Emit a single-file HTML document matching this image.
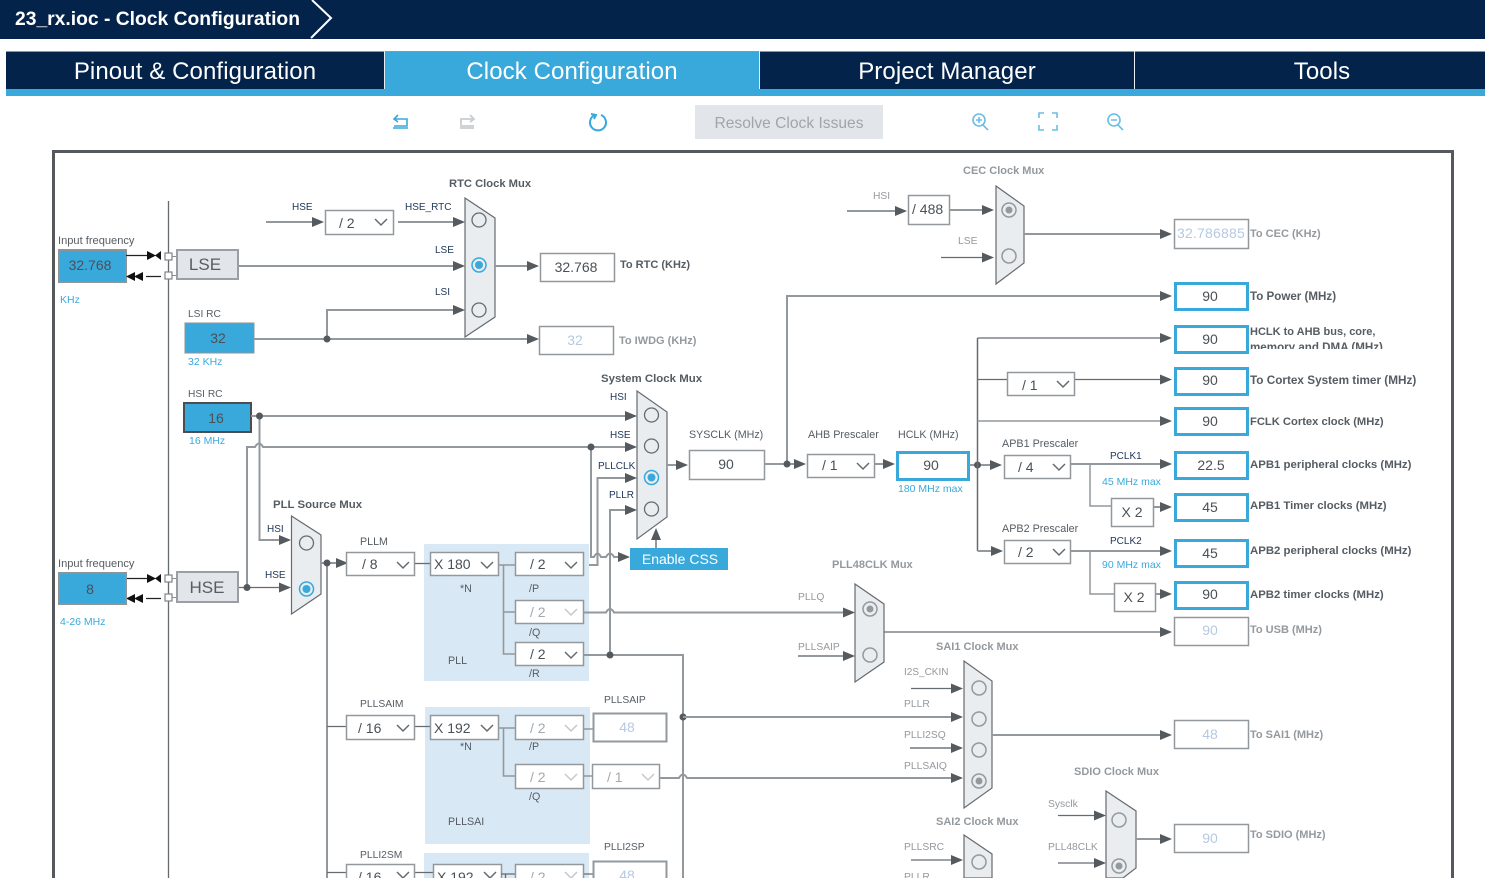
<!DOCTYPE html>
<html><head><meta charset="utf-8"><title>Clock Configuration</title>
<style>
html,body{margin:0;padding:0;background:#fff;width:1485px;height:881px;overflow:hidden}
svg{position:absolute;left:0;top:0;display:block}
text{font-family:"Liberation Sans",sans-serif;font-size:10.7px;fill:#555c63}
.if{font-size:11.1px}
.n{fill:#1d3557;font-size:10px}.b{font-weight:bold;font-size:11.2px;fill:#555c63}.r{font-weight:bold;font-size:11.4px;fill:#555c63}.bg{font-weight:bold;font-size:11px;fill:#94999e}
.gl{fill:#94999e;font-size:10.3px}.bl{fill:#39a9dc;font-size:10.5px}
.v{font-size:14px;fill:#4a5056}.vc{font-size:14px;fill:#4a5056;text-anchor:middle}
.dv{font-size:14px;fill:#b5c9e2;text-anchor:middle}.off{font-size:14px;fill:#a4a9ae}
.g{fill:none;stroke:#93989c;stroke-width:2}.d{fill:none;stroke:#666b70;stroke-width:1.3}
.w{fill:#fff;stroke:#93989c;stroke-width:1.5}.wb{fill:#fff;stroke:#39a9dc;stroke-width:3}
.mx{fill:#e9edf0;stroke:#666b70;stroke-width:1.2}
.o{fill:none;stroke:#666b70;stroke-width:1.3}.s{fill:none;stroke:#39a9dc;stroke-width:1.5}.sg{fill:none;stroke:#94999e;stroke-width:1.5}
.ch{fill:none;stroke:#666b70;stroke-width:1.5}.cl{fill:none;stroke:#c4c8cc;stroke-width:1.5}
.bx{fill:#39a9dc;stroke:#8e9398;stroke-width:2}.ls{fill:#e2e6ea;stroke:#9a9fa4;stroke-width:2}
.t{font-size:24px;fill:#fff;text-anchor:middle;letter-spacing:.1px}
.i{fill:none;stroke:#39a9dc;stroke-width:1.6}
</style></head><body>
<svg width="1485" height="881" viewBox="0 0 1485 881" xmlns="http://www.w3.org/2000/svg">
<defs>
<marker id="a" markerUnits="userSpaceOnUse" markerWidth="13" markerHeight="11" refX="10" refY="5" orient="auto"><polygon points="0,0 12,5 0,10" fill="#555a5f"/></marker>
<clipPath id="pg"><rect x="0" y="0" width="1485" height="878"/></clipPath>
<clipPath id="hc"><rect x="1245" y="320" width="200" height="29"/></clipPath>
</defs>
<rect x="0" y="0" width="1485" height="39" fill="#03234b"/>
<text x="15" y="25" style="font-size:19.3px;font-weight:bold;fill:#fff">23_rx.ioc - Clock Configuration</text>
<polyline points="312,0 331,18 311,38" fill="none" stroke="#fff" stroke-width="2"/>
<rect x="6" y="51" width="1479" height="45" fill="#39a9dc"/>
<rect x="6" y="51" width="378" height="38" fill="#03234b"/>
<rect x="760" y="51" width="374" height="38" fill="#03234b"/>
<rect x="1135" y="51" width="350" height="38" fill="#03234b"/>
<rect x="6" y="51" width="1479" height="1" fill="#8a96a8"/>
<rect x="384" y="51" width="1" height="38" fill="#e8eef4"/>
<rect x="759" y="51" width="1" height="38" fill="#e8eef4"/>
<rect x="1134" y="51" width="1" height="38" fill="#e8eef4"/>
<text class="t" x="195" y="79">Pinout &amp; Configuration</text>
<text class="t" x="572" y="79">Clock Configuration</text>
<text class="t" x="947" y="79">Project Manager</text>
<text class="t" x="1322" y="79">Tools</text>

<path class="i" d="M393 128h15M394 119h13v7h-13M398 115l-4 4 4 3"/>
<path d="M460 128h14M474 119h-13v7h13M470 115l4 4-4 3" fill="none" stroke="#c9cdd1" stroke-width="1.8"/>
<path class="i" d="M595 115a8 8 0 1 0 6 0M591 114l5 1-2 4" style="stroke-width:2"/>
<rect x="695" y="105" width="188" height="34" fill="#e2e6ea"/>
<text x="789" y="128" style="font-size:15.6px;fill:#a0a5aa;text-anchor:middle">Resolve Clock Issues</text>
<g style="opacity:.75"><circle class="i" cx="979" cy="120" r="6"/><path class="i" d="M983 125l5 5M976 120h6M979 117v6"/>
<path class="i" d="M1039 118v-5h5M1052 113h5v5M1057 125v5h-5M1044 130h-5v-5"/>
<circle class="i" cx="1114" cy="120" r="6"/><path class="i" d="M1118 125l5 5M1111 120h6"/></g>

<g clip-path="url(#pg)">
<path d="M53.500 878V151.500H1452.500V878" fill="none" stroke="#55595d" stroke-width="3"/>
<path d="M168.500 201V878" class="d"/>

<!-- LSE -->
<text class="if" x="58" y="244">Input frequency</text>
<rect class="bx" x="59" y="250" width="67" height="32"/>
<text class="vc" x="90" y="270">32.768</text>
<text class="bl" x="60" y="303">KHz</text>
<path d="M126 255.500H148M146 276.500H161M126 578.500H148M146 598.500H161" stroke="#222" stroke-width="1.3" fill="none"/>
<g fill="#111"><polygon points="147,251 156,255.500 147,260"/><polygon points="161,251 155,255.500 161,260"/><polygon points="135,272 126,276.500 135,281"/><polygon points="143,272 134,276.500 143,281"/>
<polygon points="147,574 156,578.500 147,583"/><polygon points="161,574 155,578.500 161,583"/><polygon points="135,594 126,598.500 135,603"/><polygon points="143,594 134,598.500 143,603"/></g>
<g fill="#fff" stroke="#7f8488" stroke-width="1.2"><rect x="165" y="253" width="7" height="7"/><rect x="165" y="272" width="7" height="7"/><rect x="165" y="575" width="7" height="7"/><rect x="165" y="594" width="7" height="7"/></g>
<path d="M172 256.500h5M172 275.500h5M172 578.500h5M172 597.500h5" stroke="#8a8f94"/>
<rect class="ls" x="177" y="250" width="61" height="29"/>
<text x="205" y="270" style="font-size:17px;fill:#555c63;text-anchor:middle">LSE</text>
<path class="g" d="M239 266H463" marker-end="url(#a)"/>
<text class="n" x="292" y="210">HSE</text>
<path class="g" d="M266 222H322" marker-end="url(#a)"/>
<rect class="w" x="325.500" y="210.500" width="68" height="24"/>
<text class="v" x="339" y="228">/ 2</text>
<path class="ch" d="M375 219l6 6 6-6"/>
<text class="n" x="405" y="210">HSE_RTC</text>
<path class="g" d="M398 222H463" marker-end="url(#a)"/>
<text class="n" x="435" y="253">LSE</text><text class="n" x="435" y="295">LSI</text>
<text class="b" x="449" y="187">RTC Clock Mux</text>
<polygon class="mx" points="465,198 495,218 495,317 465,337"/>
<circle class="o" cx="479" cy="220" r="7"/><circle class="s" cx="479" cy="265" r="7"/><circle cx="479" cy="265" r="4" fill="#39a9dc"/><circle class="o" cx="479" cy="310" r="7"/>
<path class="g" d="M495 266H537" marker-end="url(#a)"/>
<rect class="w" x="540.500" y="253.500" width="74" height="28"/>
<text class="vc" x="576" y="272">32.768</text>
<text class="b" x="620" y="268" style="font-size:11px">To RTC (KHz)</text>

<!-- LSI -->
<text x="188" y="317" style="font-size:10.2px">LSI RC</text>
<rect class="bx" x="185" y="323" width="69" height="30" style="stroke:#8e9398;stroke-width:1"/>
<text class="vc" x="218" y="343">32</text>
<text class="bl" x="188" y="365">32 KHz</text>
<path class="g" d="M254 339H537" marker-end="url(#a)"/>
<path class="g" d="M327 339V310H463" marker-end="url(#a)"/>
<circle cx="327" cy="339" r="3.500" fill="#55595d"/>
<rect class="w" x="539.500" y="326.500" width="74" height="28"/>
<text class="dv" x="575" y="345">32</text>
<text class="bg" x="619" y="344">To IWDG (KHz)</text>

<!-- HSI -->
<text x="188" y="397" style="font-size:10.2px">HSI RC</text>
<rect x="184" y="403" width="67" height="29" fill="#39a9dc" stroke="#4a4e52" stroke-width="2"/>
<text class="vc" x="216" y="423">16</text>
<text class="bl" x="189" y="444">16 MHz</text>
<path class="g" d="M251 416H635" marker-end="url(#a)"/>
<path class="g" d="M247 587V447H255q4-7 8 0H635" marker-end="url(#a)"/>
<path class="g" d="M259.500 416V540H289" marker-end="url(#a)"/>
<circle cx="259.500" cy="416" r="3.500" fill="#55595d"/>
<text class="n" x="267" y="532">HSI</text><text class="n" x="265" y="578">HSE</text>
<text class="b" x="273" y="508" style="font-size:11.4px">PLL Source Mux</text>
<polygon class="mx" points="291.500,516 321,535 321,594 291.500,614"/>
<circle class="o" cx="306.500" cy="543" r="7"/><circle class="s" cx="306.500" cy="589" r="7"/><circle cx="306.500" cy="589" r="4" fill="#39a9dc"/>

<!-- HSE -->
<text class="if" x="58" y="567">Input frequency</text>
<rect class="bx" x="59" y="573" width="67" height="31"/>
<text class="vc" x="90" y="594">8</text>
<text class="bl" x="60" y="625">4-26 MHz</text>
<rect class="ls" x="177" y="572" width="61" height="30"/>
<text x="207" y="593" style="font-size:17px;fill:#555c63;text-anchor:middle">HSE</text>
<path class="d" d="M239 587.500H289" marker-end="url(#a)"/>
<circle cx="247" cy="587.500" r="3.500" fill="#55595d"/>

<!-- System mux -->
<text class="b" x="601" y="382" style="font-size:11.45px">System Clock Mux</text>
<text class="n" x="610" y="400">HSI</text><text class="n" x="610" y="438">HSE</text><text class="n" x="598" y="469">PLLCLK</text><text class="n" x="609" y="498">PLLR</text>
<polygon class="mx" points="637,391 667,412 667,517 637,539"/>
<circle class="o" cx="651.500" cy="415" r="7"/><circle class="o" cx="651.500" cy="446" r="7"/><circle class="s" cx="651.500" cy="477.500" r="7"/><circle cx="651.500" cy="477.500" r="4" fill="#39a9dc"/><circle class="o" cx="651.500" cy="509" r="7"/>
<path class="g" d="M591 447V557H594q3.500-7 7 0H606q4-7 8 0H628" marker-end="url(#a)"/>
<circle cx="591" cy="447" r="3.500" fill="#55595d"/>
<path class="g" d="M584 565H597.500V478H635" marker-end="url(#a)"/>
<path class="g" d="M610 655V510H635" marker-end="url(#a)"/>
<path class="g" d="M656 548V530" marker-end="url(#a)"/>
<rect x="630" y="548" width="98" height="22" fill="#39a9dc"/>
<text x="680" y="564" style="font-size:14px;fill:#fff;text-anchor:middle">Enable CSS</text>
<path class="g" d="M667 465H686" marker-end="url(#a)"/>
<text x="689" y="438">SYSCLK (MHz)</text>
<rect class="w" x="689.500" y="450.500" width="75" height="29"/>
<text class="vc" x="726" y="469">90</text>
<path class="g" d="M765 464H804" marker-end="url(#a)"/>
<path class="g" d="M787 464V296H1170" marker-end="url(#a)"/>
<circle cx="787" cy="464" r="3.500" fill="#55595d"/>

<!-- PLL -->
<rect x="424" y="544" width="165" height="137" fill="#d9e8f5"/>
<text x="360" y="545">PLLM</text>
<path class="g" d="M321 563H346" marker-end="url(#a)"/>
<path class="g" d="M327 563V878"/>
<circle cx="327" cy="563" r="3.500" fill="#55595d"/>
<rect class="w" x="346.500" y="552.500" width="68" height="23"/>
<text class="v" x="362" y="569">/ 8</text><path class="ch" d="M397 562l6 6 6-6"/>
<path class="d" d="M415 563.500H430"/>
<rect class="w" x="430.500" y="552.500" width="68" height="23"/>
<text class="v" x="434" y="569">X 180</text><path class="ch" d="M481 562l6 6 6-6"/>
<path class="g" d="M499 565H515M503.500 565V654H515M503.500 612H515" style="stroke-width:1.6"/>
<rect class="w" x="515.500" y="552.500" width="68" height="23"/>
<text class="v" x="530" y="569">/ 2</text><path class="ch" d="M565 562l6 6 6-6"/>
<rect class="w" x="515.500" y="600.500" width="68" height="23"/>
<text class="off" x="530" y="617">/ 2</text><path class="cl" d="M565 609l6 6 6-6"/>
<rect class="w" x="515.500" y="642.500" width="68" height="23"/>
<text class="v" x="530" y="659">/ 2</text><path class="ch" d="M565 652l6 6 6-6"/>
<text x="460" y="592">*N</text><text x="529" y="592">/P</text><text x="529" y="636">/Q</text><text x="529" y="677">/R</text><text x="448" y="664">PLL</text>
<path class="g" d="M584 612.500H606q4-7 8 0H853" marker-end="url(#a)"/>
<path class="g" d="M584 655H683V878"/>
<circle cx="610" cy="655" r="3.500" fill="#55595d"/>
<circle cx="683" cy="717" r="3.500" fill="#55595d"/>

<!-- PLL48 -->
<text class="bg" x="832" y="568">PLL48CLK Mux</text>
<text class="gl" x="798" y="600">PLLQ</text><text class="gl" x="798" y="650">PLLSAIP</text>
<path class="g" d="M798 656H853" marker-end="url(#a)"/>
<polygon class="mx" points="855,584 884,604 884,662 855,682"/>
<circle class="sg" cx="870" cy="609" r="7"/><circle cx="870" cy="609" r="3.500" fill="#94999e"/><circle class="sg" cx="870" cy="655" r="7"/>
<path class="d" d="M884 632H1170" marker-end="url(#a)"/>
<rect class="w" x="1174.500" y="617.500" width="74" height="28"/><text class="dv" x="1210" y="635">90</text>
<text class="bg" x="1250" y="633">To USB (MHz)</text>

<!-- PLLSAI -->
<rect x="425" y="707" width="165" height="137" fill="#d9e8f5"/>
<text x="360" y="707" style="font-size:10.3px">PLLSAIM</text>
<path class="d" d="M327 726.500H346M415 726.500H430"/>
<rect class="w" x="346.500" y="715.500" width="68" height="24"/><text class="v" x="358" y="733">/ 16</text><path class="ch" d="M397 725l6 6 6-6"/>
<rect class="w" x="430.500" y="715.500" width="68" height="24"/><text class="v" x="434" y="733">X 192</text><path class="ch" d="M481 725l6 6 6-6"/>
<path class="g" d="M499 728H515M503.500 728V776H515" style="stroke-width:1.6"/>
<rect class="w" x="515.500" y="715.500" width="68" height="24"/><text class="off" x="530" y="733">/ 2</text><path class="cl" d="M565 725l6 6 6-6"/>
<rect class="w" x="515.500" y="764.500" width="68" height="24"/><text class="off" x="530" y="782">/ 2</text><path class="cl" d="M565 774l6 6 6-6"/>
<text x="460" y="750">*N</text><text x="529" y="750">/P</text><text x="529" y="800">/Q</text><text x="448" y="825">PLLSAI</text>
<text x="604" y="703" style="font-size:10.3px">PLLSAIP</text>
<path class="g" d="M584 729H593M584 776H592" style="stroke-width:1.6"/>
<rect class="w" x="593.500" y="713.500" width="73" height="28" style="stroke-width:2"/><text class="dv" x="627" y="732">48</text>
<rect class="w" x="592.500" y="764.500" width="67" height="24"/><text class="off" x="607" y="782">/ 1</text><path class="cl" d="M642 774l6 6 6-6"/>
<path class="g" d="M660 778H679q4-7 8 0H961" marker-end="url(#a)"/>
<path class="g" d="M683 717H961" marker-end="url(#a)"/>

<!-- PLLI2S -->
<rect x="424" y="853" width="165" height="25" fill="#d9e8f5"/>
<text x="360" y="858" style="font-size:10.3px">PLLI2SM</text><text x="604" y="850" style="font-size:10.3px">PLLI2SP</text>
<path class="d" d="M327 872.500H346M415 872.500H433"/>
<path class="w" d="M346.500 878V864.500H414.500V878"/><text class="v" x="358" y="882">/ 16</text><path class="ch" d="M397 872l6 6"/><path class="ch" d="M409 872l-6 6"/>
<path class="w" d="M433.500 878V864.500H501.500V878"/><text class="v" x="437" y="882">X 192</text><path class="ch" d="M484 872l6 6 6-6"/>
<path class="d" d="M501 874H515M505.500 874V878M584 874H593"/>
<path class="w" d="M515.500 878V864.500H583.500V878"/><text class="off" x="530" y="882">/ 2</text><path class="cl" d="M565 872l6 6 6-6"/>
<path class="w" d="M593.500 878V861.500H666.500V878" style="stroke-width:2"/><text class="dv" x="627" y="880">48</text>

<!-- SAI1 -->
<text class="bg" x="936" y="650">SAI1 Clock Mux</text>
<text class="gl" x="904" y="675" style="font-size:10px">I2S_CKIN</text><text class="gl" x="904" y="707">PLLR</text><text class="gl" x="904" y="738">PLLI2SQ</text><text class="gl" x="904" y="769">PLLSAIQ</text>
<path class="d" d="M911 688.500H961" marker-end="url(#a)"/>
<path class="g" d="M910 748H961" marker-end="url(#a)"/>
<polygon class="mx" points="964,661 992,681 992,788 964,808"/>
<circle class="sg" cx="979" cy="688" r="7"/><circle class="sg" cx="979" cy="719" r="7"/><circle class="sg" cx="979" cy="750" r="7"/><circle class="sg" cx="979" cy="781" r="7"/><circle cx="979" cy="781" r="3.500" fill="#94999e"/>
<path class="g" d="M992 735H1170" marker-end="url(#a)"/>
<rect class="w" x="1174.500" y="720.500" width="74" height="28"/><text class="dv" x="1210" y="739">48</text>
<text class="bg" x="1250" y="738">To SAI1 (MHz)</text>

<!-- SAI2 -->
<text class="bg" x="936" y="825">SAI2 Clock Mux</text>
<text class="gl" x="904" y="850">PLLSRC</text><text class="gl" x="904" y="880">PLLR</text>
<path class="d" d="M911 860H961" marker-end="url(#a)"/>
<polygon class="mx" points="964,835 992,854 992,878 964,878"/>
<circle class="sg" cx="979" cy="862" r="7"/>

<!-- SDIO -->
<text class="bg" x="1074" y="775">SDIO Clock Mux</text>
<text class="gl" x="1048" y="807">Sysclk</text><text class="gl" x="1048" y="850">PLL48CLK</text>
<path class="d" d="M1058 815.500H1104" marker-end="url(#a)"/>
<path class="d" d="M1058 863H1104" marker-end="url(#a)"/>
<polygon class="mx" points="1106,791 1136,811 1136,868 1123,878 1106,878"/>
<circle class="sg" cx="1119" cy="820" r="7"/><circle class="sg" cx="1119" cy="866" r="7"/><circle cx="1119" cy="866" r="3.500" fill="#94999e"/>
<path class="g" d="M1136 839H1170" marker-end="url(#a)"/>
<rect class="w" x="1174.500" y="824.500" width="74" height="28"/><text class="dv" x="1210" y="843">90</text>
<text class="bg" x="1250" y="838">To SDIO (MHz)</text>

<!-- CEC -->
<text class="bg" x="963" y="174">CEC Clock Mux</text>
<text class="gl" x="873" y="199">HSI</text><text class="gl" x="958" y="244">LSE</text>
<path class="g" d="M847 211H905" marker-end="url(#a)"/>
<rect class="w" x="908.500" y="195.500" width="41" height="29"/>
<text class="v" x="912" y="214">/ 488</text>
<path class="g" d="M949 210H992" marker-end="url(#a)"/>
<path class="d" d="M941 257.500H992" marker-end="url(#a)"/>
<polygon class="mx" points="996,186 1024,206 1024,263 996,284"/>
<circle class="sg" cx="1009" cy="210" r="7"/><circle cx="1009" cy="210" r="3.500" fill="#94999e"/><circle class="sg" cx="1009" cy="256" r="7"/>
<path class="g" d="M1024 234H1170" marker-end="url(#a)"/>
<rect class="w" x="1174.500" y="219.500" width="74" height="29"/>
<text x="1177" y="238" style="font-size:14px;letter-spacing:.2px;fill:#b5c9e2">32.786885</text>
<text class="bg" x="1250" y="237">To CEC (KHz)</text>

<!-- AHB -->
<text x="808" y="438" style="font-size:10.8px">AHB Prescaler</text><text x="898" y="438">HCLK (MHz)</text>
<rect class="w" x="807.500" y="454.500" width="67" height="23"/><text class="v" x="822" y="470">/ 1</text><path class="ch" d="M857 463l6 6 6-6"/>
<path class="g" d="M875 464H893" marker-end="url(#a)"/>
<rect class="wb" x="897.500" y="452.500" width="71" height="27"/><text class="vc" x="931" y="470">90</text>
<text class="bl" x="898" y="492">180 MHz max</text>
<path class="g" d="M969 465H1000" marker-end="url(#a)"/>
<circle cx="977.500" cy="465" r="3.500" fill="#55595d"/>
<path class="d" d="M977.500 338H1170" marker-end="url(#a)"/>
<path class="d" d="M977.500 338V551" style="stroke-width:1.5"/>
<path class="d" d="M977.500 379.500H1007"/>
<path class="d" d="M1075 379.500H1170" marker-end="url(#a)"/>
<path class="g" d="M977.500 421H1170" style="stroke-width:1.5" marker-end="url(#a)"/>
<path class="g" d="M977.500 551H1001" marker-end="url(#a)"/>
<rect class="w" x="1007.500" y="372.500" width="67" height="23"/><text class="v" x="1022" y="390">/ 1</text><path class="ch" d="M1057 381l6 6 6-6"/>

<text x="1002" y="447" style="font-size:10.8px">APB1 Prescaler</text>
<rect class="w" x="1004.500" y="455.500" width="66" height="23"/><text class="v" x="1018" y="472">/ 4</text><path class="ch" d="M1053 464l6 6 6-6"/>
<path class="g" d="M1071 464H1170" marker-end="url(#a)"/>
<text class="n" x="1110" y="459">PCLK1</text><text class="bl" x="1102" y="485">45 MHz max</text>
<path class="g" d="M1090 464V506H1111" style="stroke-width:1.5"/>
<rect class="w" x="1111.500" y="498.500" width="42" height="28"/><text class="vc" x="1132" y="517">X 2</text>
<path class="g" d="M1154 507H1170" marker-end="url(#a)"/>

<text x="1002" y="532" style="font-size:10.8px">APB2 Prescaler</text>
<rect class="w" x="1004.500" y="540.500" width="66" height="23"/><text class="v" x="1018" y="557">/ 2</text><path class="ch" d="M1053 549l6 6 6-6"/>
<path class="g" d="M1071 551H1170" marker-end="url(#a)"/>
<text class="n" x="1110" y="544">PCLK2</text><text class="bl" x="1102" y="568">90 MHz max</text>
<path class="g" d="M1090 551V594H1114" style="stroke-width:1.5"/>
<rect class="w" x="1114.500" y="583.500" width="41" height="28"/><text class="vc" x="1134" y="602">X 2</text>
<path class="g" d="M1155 594H1170" marker-end="url(#a)"/>

<!-- Output boxes -->
<rect class="wb" x="1175.500" y="283.500" width="72" height="26"/><text class="vc" x="1210" y="301">90</text>
<rect class="wb" x="1175.500" y="326.500" width="72" height="26"/><text class="vc" x="1210" y="344">90</text>
<rect class="wb" x="1175.500" y="368.500" width="72" height="26"/><text class="vc" x="1210" y="385">90</text>
<rect class="wb" x="1175.500" y="408.500" width="72" height="26"/><text class="vc" x="1210" y="426">90</text>
<rect class="wb" x="1175.500" y="452.500" width="72" height="26"/><text class="vc" x="1211" y="470">22.5</text>
<rect class="wb" x="1175.500" y="494.500" width="72" height="26"/><text class="vc" x="1210" y="512">45</text>
<rect class="wb" x="1175.500" y="540.500" width="72" height="26"/><text class="vc" x="1210" y="558">45</text>
<rect class="wb" x="1175.500" y="582.500" width="72" height="26"/><text class="vc" x="1210" y="599">90</text>
<text class="r" x="1250" y="300" style="font-size:11.6px">To Power (MHz)</text>
<text class="r" x="1250" y="335" style="font-size:11px">HCLK to AHB bus, core,</text>
<text class="r" x="1250" y="351" style="font-size:11.6px" clip-path="url(#hc)">memory and DMA (MHz)</text>
<text class="r" x="1250" y="384" style="font-size:11.75px">To Cortex System timer (MHz)</text>
<text class="r" x="1250" y="425" style="font-size:11.2px">FCLK Cortex clock (MHz)</text>
<text class="r" x="1250" y="468">APB1 peripheral clocks (MHz)</text>
<text class="r" x="1250" y="509" style="font-size:11.35px">APB1 Timer clocks (MHz)</text>
<text class="r" x="1250" y="554">APB2 peripheral clocks (MHz)</text>
<text class="r" x="1250" y="598" style="font-size:11.35px">APB2 timer clocks (MHz)</text>
</g>
</svg>
</body></html>
